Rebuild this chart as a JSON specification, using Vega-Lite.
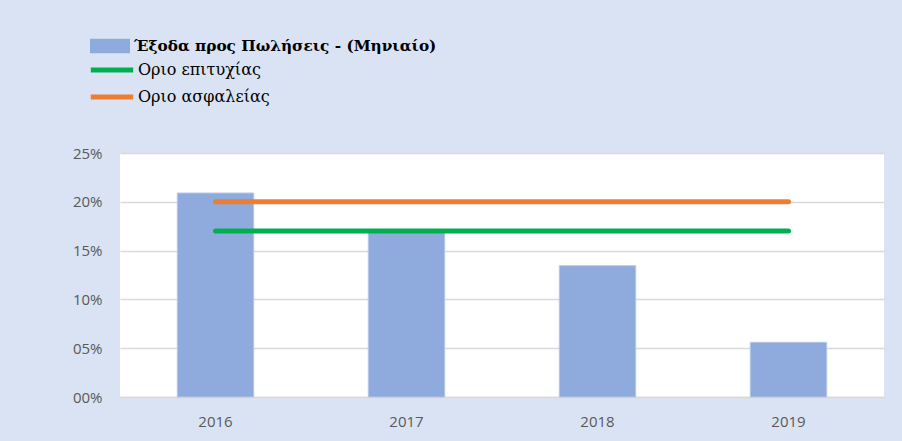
{
  "$schema": "https://vega.github.io/schema/vega-lite/v6.json",
  "width": 764,
  "height": 244,
  "autosize": {"type": "none"},
  "padding": {"left": 120, "top": 153, "right": 18, "bottom": 44},
  "background": "#dae3f3",
  "view": {"fill": "white", "stroke": null},
  "datasets": {
    "bars": [
      {"year": "2016", "value": 0.209, "series": "Έξοδα προς Πωλήσεις - (Μηνιαίο)"},
      {"year": "2017", "value": 0.170, "series": "Έξοδα προς Πωλήσεις - (Μηνιαίο)"},
      {"year": "2018", "value": 0.1345, "series": "Έξοδα προς Πωλήσεις - (Μηνιαίο)"},
      {"year": "2019", "value": 0.056, "series": "Έξοδα προς Πωλήσεις - (Μηνιαίο)"}
    ],
    "lines": [
      {"year": "2016", "value": 0.17, "series": "Οριο επιτυχίας"},
      {"year": "2017", "value": 0.17, "series": "Οριο επιτυχίας"},
      {"year": "2018", "value": 0.17, "series": "Οριο επιτυχίας"},
      {"year": "2019", "value": 0.17, "series": "Οριο επιτυχίας"},
      {"year": "2016", "value": 0.20, "series": "Οριο ασφαλείας"},
      {"year": "2017", "value": 0.20, "series": "Οριο ασφαλείας"},
      {"year": "2018", "value": 0.20, "series": "Οριο ασφαλείας"},
      {"year": "2019", "value": 0.20, "series": "Οριο ασφαλείας"}
    ]
  },
  "encoding": {
    "x": {
      "field": "year",
      "type": "nominal",
      "scale": {"paddingInner": 0.6, "paddingOuter": 0.3},
      "axis": {
        "title": null,
        "labelAngle": 0,
        "labelFont": "Open Sans",
        "labelFontSize": 15,
        "labelColor": "#595959",
        "labelPadding": 17,
        "ticks": false,
        "domain": true,
        "domainColor": "#d9d9d9",
        "domainWidth": 1.5
      }
    },
    "y": {
      "field": "value",
      "type": "quantitative",
      "scale": {"domain": [0, 0.25]},
      "axis": {
        "title": null,
        "format": "03.0%",
        "values": [0, 0.05, 0.1, 0.15, 0.2, 0.25],
        "labelFont": "Open Sans",
        "labelFontSize": 15,
        "labelColor": "#595959",
        "labelPadding": 18,
        "ticks": false,
        "domain": false,
        "grid": true,
        "gridColor": "#d9d9d9",
        "gridWidth": 1.5
      }
    }
  },
  "layer": [
    {
      "data": {"name": "bars"},
      "mark": {"type": "bar", "stroke": "#b4c7e7", "strokeWidth": 1},
      "encoding": {
        "fill": {
          "field": "series",
          "type": "nominal",
          "scale": {"range": ["#8faadc"]},
          "legend": {
            "orient": "none",
            "legendX": -30,
            "legendY": -127,
            "title": null,
            "symbolType": "M-1,-0.36L1,-0.36L1,0.36L-1,0.36Z",
            "symbolSize": 1600,
            "symbolStrokeWidth": 0,
            "labelFont": "DejaVu Serif",
            "labelFontSize": 15.3,
            "labelFontWeight": "bold",
            "labelColor": "#000000",
            "labelOffset": 4,
            "labelLimit": 500
          }
        }
      }
    },
    {
      "data": {"name": "lines"},
      "mark": {"type": "line", "strokeWidth": 5, "strokeCap": "round"},
      "encoding": {
        "stroke": {
          "field": "series",
          "type": "nominal",
          "scale": {"domain": ["Οριο επιτυχίας", "Οριο ασφαλείας"], "range": ["#00b050", "#ed7d31"]},
          "legend": {
            "orient": "none",
            "legendX": -32,
            "legendY": -95,
            "title": null,
            "symbolType": "stroke",
            "symbolSize": 1800,
            "symbolStrokeWidth": 5,
            "clipHeight": 24,
            "rowPadding": 3,
            "labelFont": "DejaVu Serif",
            "labelFontSize": 16,
            "labelColor": "#000000",
            "labelOffset": 2,
            "labelLimit": 500
          }
        }
      }
    }
  ]
}
